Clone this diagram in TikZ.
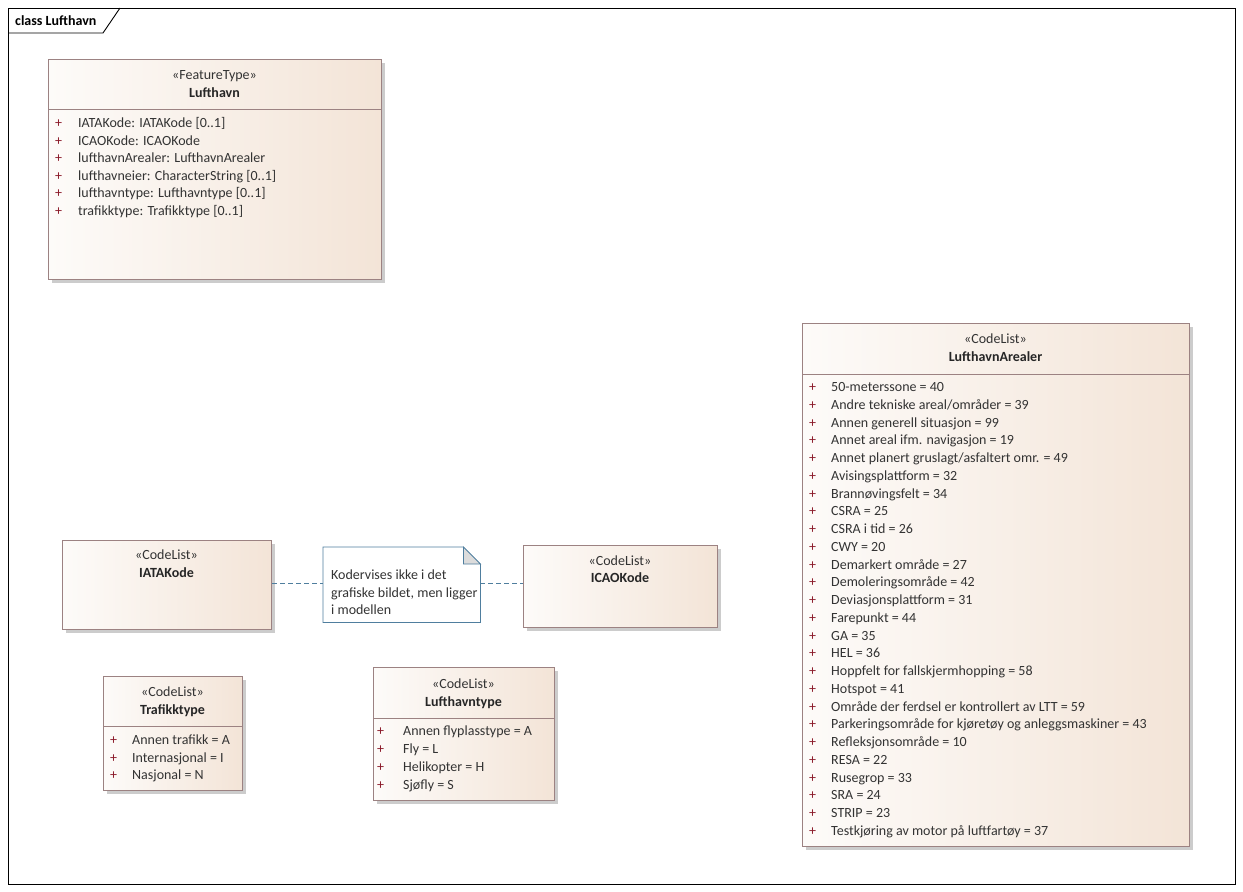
\documentclass[tikz,border=0pt]{standalone}
\usepackage{fontspec}
\setmainfont{Carlito}
\usetikzlibrary{shadows}

\definecolor{umlline}{HTML}{9C8282}
\definecolor{umlleft}{HTML}{FDFBF9}
\definecolor{umlright}{HTML}{F3E4D7}
\definecolor{umltext}{HTML}{333333}
\definecolor{umlname}{HTML}{262626}
\definecolor{umlplus}{HTML}{8B1A2A}
\definecolor{noteline}{HTML}{4F7E9E}
\definecolor{notefold}{HTML}{DCDCDC}

\begin{document}
\begin{tikzpicture}[x=1pt, y=-1pt,
    umlbox/.style={draw=umlline, line width=1pt, left color=umlleft, right color=umlright,
        anchor=north west, inner sep=0pt,
        drop shadow={shadow xshift=3pt, shadow yshift=-3pt, fill=black!20, opacity=1}},
    stereo/.style={text=umltext, font=\fontsize{14}{17}\selectfont, anchor=base, inner sep=0pt},
    clsname/.style={text=umlname, font=\bfseries\fontsize{14}{17}\selectfont, anchor=base, inner sep=0pt},
    vis/.style={text=umlplus, font=\fontsize{14}{17}\selectfont, anchor=base west, inner sep=0pt},
    attr/.style={text=umltext, font=\fontsize{14}{17}\selectfont, anchor=base west, inner sep=0pt},
    notelink/.style={noteline, line width=0.8pt, dash pattern=on 5pt off 3pt}]

    \useasboundingbox (0,0) rectangle (1243,892);

    % frame
    \draw[line width=0.9pt] (8,8) rectangle (1235,884);
    \draw[line width=0.9pt] (8,33) -- (103,33) -- (120,8);
    \node[anchor=base west, inner sep=0pt, font=\bfseries\fontsize{14}{17}\selectfont] (frametab) at (15,25) {class Lufthavn};

    % Lufthavn
    \node[umlbox, minimum width=333pt, minimum height=220pt] (lufthavn) at (48,59) {};
    \draw[umlline, line width=1pt] (lufthavn.west |- 0,109) -- (lufthavn.east |- 0,109);
    \node[stereo] (lufthavn-st) at (214.5,79.5) {«FeatureType»};
    \node[clsname] (lufthavn-nm) at (214.5,97.5) {Lufthavn};
    \foreach \txt [count=\i] in {{IATAKode: IATAKode [0..1]}, {ICAOKode: ICAOKode},
        {lufthavnArealer: LufthavnArealer}, {lufthavneier: CharacterString [0..1]},
        {lufthavntype: Lufthavntype [0..1]}, {trafikktype: Trafikktype [0..1]}} {
        \node[vis] (lufthavn-p\i) at (55,{127.5+(\i-1)*17.6}) {+};
        \node[attr] (lufthavn-a\i) at (78,{127.5+(\i-1)*17.6}) {\txt};
    }

    % LufthavnArealer
    \node[umlbox, minimum width=387pt, minimum height=523pt] (arealer) at (802,323) {};
    \draw[umlline, line width=1pt] (arealer.west |- 0,374) -- (arealer.east |- 0,374);
    \node[stereo] (arealer-st) at (995.5,343.5) {«CodeList»};
    \node[clsname] (arealer-nm) at (995.5,361.5) {LufthavnArealer};
    \foreach \txt [count=\i] in {50-meterssone = 40, Andre tekniske areal/områder = 39,
        Annen generell situasjon = 99, Annet areal ifm. navigasjon = 19,
        Annet planert gruslagt/asfaltert omr. = 49, Avisingsplattform = 32,
        Brannøvingsfelt = 34, CSRA = 25, CSRA i tid = 26, CWY = 20,
        Demarkert område = 27, Demoleringsområde = 42, Deviasjonsplattform = 31,
        Farepunkt = 44, GA = 35, HEL = 36, Hoppfelt for fallskjermhopping = 58,
        Hotspot = 41, Område der ferdsel er kontrollert av LTT = 59,
        Parkeringsområde for kjøretøy og anleggsmaskiner = 43, Refleksjonsområde = 10,
        RESA = 22, Rusegrop = 33, SRA = 24, STRIP = 23,
        Testkjøring av motor på luftfartøy = 37} {
        \node[vis] (arealer-p\i) at (809,{391.5+(\i-1)*17.76}) {+};
        \node[attr] (arealer-a\i) at (831,{391.5+(\i-1)*17.76}) {\txt};
    }

    % IATAKode, note, ICAOKode
    \node[umlbox, minimum width=209pt, minimum height=89pt] (iata) at (62,540) {};
    \node[stereo] (iata-st) at (166.5,559.5) {«CodeList»};
    \node[clsname] (iata-nm) at (166.5,577.5) {IATAKode};

    \node[umlbox, minimum width=194pt, minimum height=82pt] (icao) at (523,545) {};
    \node[stereo] (icao-st) at (620,565.5) {«CodeList»};
    \node[clsname] (icao-nm) at (620,582.5) {ICAOKode};

    \node[anchor=north west, inner sep=0pt, minimum width=157pt, minimum height=75pt] (note) at (323,547) {};
    \draw[noteline, fill=white, line width=0.8pt] (note.north west) -- ([xshift=-17pt]note.north east)
        -- ([yshift=-17pt]note.north east) -- (note.south east) -- (note.south west) -- cycle;
    \draw[noteline, fill=notefold, line width=0.8pt] ([xshift=-17pt]note.north east)
        -- ([xshift=-17pt, yshift=-17pt]note.north east) -- ([yshift=-17pt]note.north east) -- cycle;
    \node[attr, align=left, font=\fontsize{14}{17.5}\selectfont] (note-txt) at (331,614.5)
        {Kodervises ikke i det\\grafiske bildet, men ligger\\i modellen};

    \draw[notelink] (iata.east |- 0,583) -- (note.west |- 0,583);
    \draw[notelink] (note.east |- 0,583) -- (icao.west |- 0,583);

    % Trafikktype
    \node[umlbox, minimum width=139pt, minimum height=114pt] (trafikk) at (103,676) {};
    \draw[umlline, line width=1pt] (trafikk.west |- 0,726) -- (trafikk.east |- 0,726);
    \node[stereo] (trafikk-st) at (172.5,696.5) {«CodeList»};
    \node[clsname] (trafikk-nm) at (172.5,714.5) {Trafikktype};
    \foreach \txt [count=\i] in {Annen trafikk = A, Internasjonal = I, Nasjonal = N} {
        \node[vis] (trafikk-p\i) at (110,{744.5+(\i-1)*17.5}) {+};
        \node[attr] (trafikk-a\i) at (132,{744.5+(\i-1)*17.5}) {\txt};
    }

    % Lufthavntype
    \node[umlbox, minimum width=181pt, minimum height=133pt] (lhtype) at (373,667) {};
    \draw[umlline, line width=1pt] (lhtype.west |- 0,718) -- (lhtype.east |- 0,718);
    \node[stereo] (lhtype-st) at (463.5,688.5) {«CodeList»};
    \node[clsname] (lhtype-nm) at (463.5,706.5) {Lufthavntype};
    \foreach \txt [count=\i] in {Annen flyplasstype = A, Fly = L, Helikopter = H, Sjøfly = S} {
        \node[vis] (lhtype-p\i) at (377,{735.5+(\i-1)*18}) {+};
        \node[attr] (lhtype-a\i) at (403,{735.5+(\i-1)*18}) {\txt};
    }
\end{tikzpicture}
\end{document}
